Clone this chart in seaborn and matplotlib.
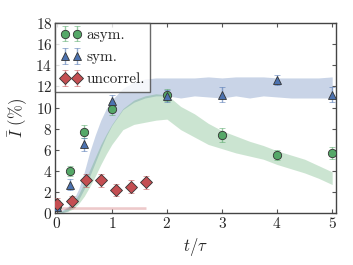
import numpy as np
import matplotlib
matplotlib.use("Agg")
import matplotlib.pyplot as plt
import seaborn as sns

# measured points
t_pts = [0.0, 0.25, 0.5, 1.0, 2.0, 3.0, 4.0, 5.0]
asym_y = [0.7, 4.0, 7.7, 9.9, 11.2, 7.4, 5.5, 5.7]
asym_err = [0.5, 0.5, 0.6, 0.6, 0.6, 0.7, 0.5, 0.6]
sym_y = [0.6, 2.7, 6.5, 10.6, 11.1, 11.2, 12.6, 11.2]
sym_err = [0.4, 0.5, 0.6, 0.6, 0.6, 0.7, 0.5, 0.7]

t_unc = [0.0, 0.27, 0.54, 0.81, 1.08, 1.35, 1.62]
unc_y = [0.9, 1.1, 3.1, 3.1, 2.2, 2.5, 2.9]
unc_err = [0.5, 0.5, 0.6, 0.6, 0.6, 0.6, 0.6]

# simulation bands
t_band = [0.0, 0.1, 0.2, 0.3, 0.4, 0.5, 0.6, 0.7, 0.8, 0.9, 1.0, 1.2, 1.4, 1.6,
          1.8, 2.0, 2.25, 2.5, 2.75, 3.0, 3.25, 3.5, 3.75, 4.0, 4.25, 4.5, 4.75, 5.0]
sym_lo = [0.0, 0.05, 0.2, 0.6, 1.3, 2.3, 3.5, 4.8, 6.1, 7.3, 8.3, 9.8, 10.5, 10.9,
          11.1, 11.1, 10.9, 11.1, 11.0, 10.9, 11.1, 10.9, 11.1, 11.0, 10.9, 10.9, 10.9, 10.9]
sym_hi = [0.1, 0.3, 0.6, 1.2, 2.3, 3.9, 5.8, 7.4, 8.8, 9.9, 10.7, 11.8, 12.4, 12.7,
          12.8, 12.8, 12.8, 12.8, 12.9, 12.8, 12.9, 12.9, 12.9, 12.8, 12.8, 12.8, 12.8, 12.9]
asym_lo = [0.0, 0.05, 0.15, 0.4, 0.9, 1.6, 2.5, 3.5, 4.6, 5.6, 6.5, 7.9, 8.4, 8.6,
           8.8, 8.9, 7.9, 7.2, 6.5, 6.1, 5.7, 5.4, 5.1, 4.6, 4.2, 3.8, 3.3, 2.7]
asym_hi = [0.1, 0.2, 0.5, 1.0, 1.8, 2.9, 4.1, 5.3, 6.5, 7.5, 8.4, 9.9, 10.7, 11.1,
           11.3, 11.2, 10.1, 9.4, 8.5, 7.8, 7.3, 6.8, 6.4, 5.9, 5.5, 5.1, 4.5, 3.9]

t_unc_band = [0.0, 0.1, 0.4, 0.8, 1.2, 1.62]
unc_lo = [0.0, 0.35, 0.35, 0.35, 0.35, 0.35]
unc_hi = [0.1, 0.6, 0.6, 0.6, 0.6, 0.6]

sns.set_style("ticks")
plt.rcParams['font.family'] = 'serif'
plt.rcParams['font.serif'] = ['cmr10', 'DejaVu Serif']
plt.rcParams['mathtext.fontset'] = 'cm'
plt.rcParams['axes.formatter.use_mathtext'] = True

pal = sns.color_palette("deep")
blue, green, red = pal[0], pal[2], pal[3]
font_size = 11

fig = plt.figure(figsize=(3.53, 2.65), dpi=100)
ax = fig.add_axes([0.156, 0.196, 0.796, 0.717])

ax.fill_between(t_band, sym_lo, sym_hi, color=blue, alpha=0.3, lw=0)
ax.fill_between(t_band, asym_lo, asym_hi, color=green, alpha=0.3, lw=0)
ax.fill_between(t_unc_band, unc_lo, unc_hi, color=red, alpha=0.3, lw=0)

ax.errorbar(t_pts, asym_y, yerr=asym_err, fmt='o', color=green, ms=6,
            mec='#333333', mew=0.6, ecolor=(*green, 0.6), elinewidth=1, capsize=2,
            label='asym.', zorder=4)
ax.errorbar(t_pts, sym_y, yerr=sym_err, fmt='^', color=blue, ms=6,
            mec='#333333', mew=0.6, ecolor=(*blue, 0.6), elinewidth=1, capsize=2,
            label='sym.', zorder=4)
ax.errorbar(t_unc, unc_y, yerr=unc_err, fmt='D', color=red, ms=6,
            mec='#333333', mew=0.6, ecolor=(*red, 0.6), elinewidth=1, capsize=2,
            label='uncorrel.', zorder=4)

ax.set_xlim(-0.03, 5.07)
ax.set_ylim(0, 18)
ax.set_xticks([0, 1, 2, 3, 4, 5])
ax.set_yticks(np.arange(0, 19, 2))
ax.set_xlabel(r"$t/\tau$", fontsize=font_size + 1)
ax.set_ylabel(r"$\bar{I}$ (%)", fontsize=font_size + 1)
ax.tick_params(axis='both', direction='in', top=True, right=True,
               labelsize=font_size, length=3, width=0.8, color='#555555', pad=2)
for sp in ax.spines.values():
    sp.set_color('#444444')
    sp.set_linewidth(1.0)

leg = ax.legend(loc='upper left', numpoints=2, fontsize=font_size, frameon=True,
                fancybox=False, borderaxespad=0.0, handletextpad=0.3,
                borderpad=0.35, labelspacing=0.55, handlelength=1.4)
leg.get_frame().set_edgecolor('#444444')
leg.get_frame().set_linewidth(1.0)

plt.savefig("out.png", dpi=100)
